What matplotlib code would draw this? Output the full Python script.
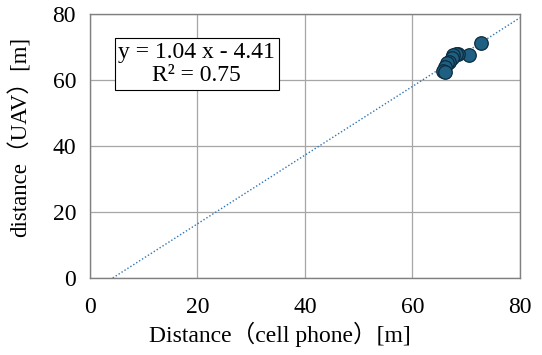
import numpy as np
import matplotlib.pyplot as plt

plt.rcParams['font.family'] = ['Liberation Serif', 'Noto Sans CJK JP']

# measured distances
cell_phone = [72.8, 70.6, 68.5, 68.1, 67.6, 67.3, 66.9, 66.4, 66.0, 65.7, 66.0]
uav = [71.3, 67.4, 67.9, 67.9, 67.6, 66.6, 65.5, 65.0, 64.0, 62.8, 62.5]

# trendline shown in the chart
slope = 1.04
intercept = -4.41
r2 = 0.75

fig = plt.figure(figsize=(5.42, 3.55), dpi=100)
ax = fig.add_axes([0.166, 0.217, 0.793, 0.744])

ax.set_xlim(0, 80)
ax.set_ylim(0, 80)
ax.set_xticks([0, 20, 40, 60, 80])
ax.set_yticks([0, 20, 40, 60, 80])
ax.grid(color='#a6a6a6', linewidth=0.9)
ax.set_axisbelow(True)
for s in ax.spines.values():
    s.set_color('#808080')
    s.set_linewidth(1.0)
ax.tick_params(length=0, labelsize=17, colors='black')
ax.tick_params(axis='x', pad=14)
ax.tick_params(axis='y', pad=10)

x_line = np.array([-intercept / slope, 80])
ax.plot(x_line, slope * x_line + intercept, linestyle=(0, (1, 1.5)),
        color='#2e75b6', linewidth=1.0, zorder=2)

ax.scatter(cell_phone, uav, s=95, color='#1f5f82', edgecolor='#0d2b3d',
           linewidth=0.9, zorder=3)

ax.text(0.248, 0.81, 'y = 1.04 x - 4.41\nR² = 0.75', transform=ax.transAxes,
        ha='center', va='center', fontsize=17, linespacing=1.15,
        bbox=dict(boxstyle='square,pad=0.15', facecolor='white',
                  edgecolor='black', linewidth=0.8))

ax.set_xlabel('Distance（cell phone）[m]', fontsize=17)
ax.set_ylabel('distance（UAV）[m]', fontsize=16.5)
ax.xaxis.set_label_coords(0.442, -0.165)
ax.yaxis.set_label_coords(-0.135, 0.534)

fig.savefig('out.png', dpi=100)
